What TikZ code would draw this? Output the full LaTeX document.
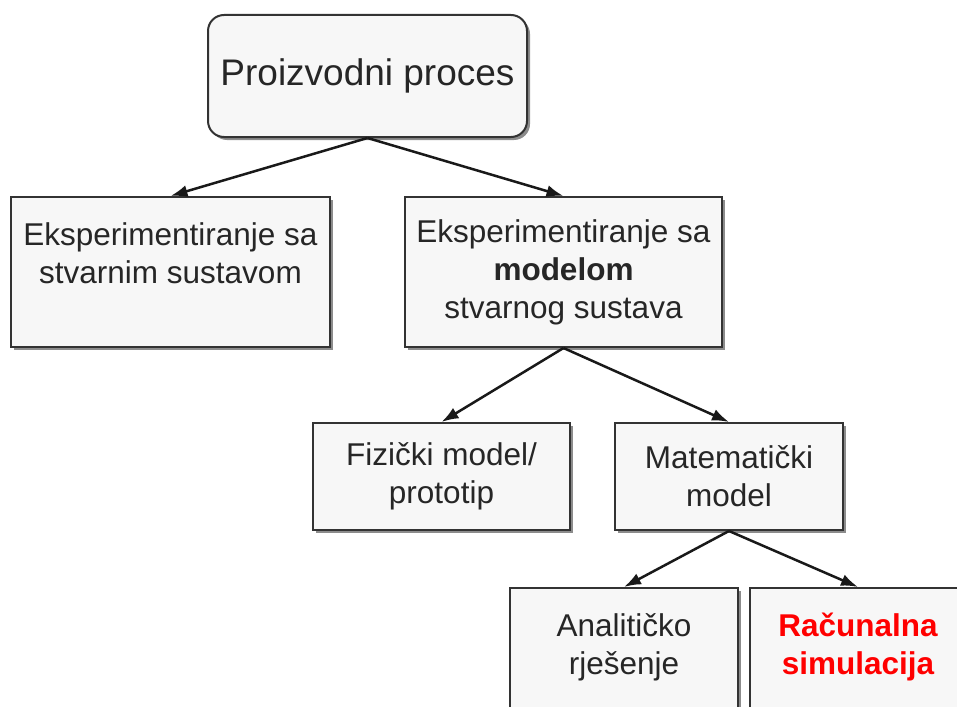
\documentclass[tikz,border=0pt]{standalone}
\usepackage{fontspec}
\setmainfont{Liberation Sans}
\usetikzlibrary{arrows.meta,shadows}
\definecolor{boxfill}{HTML}{F7F7F7}
\definecolor{boxline}{HTML}{333333}
\definecolor{boxtext}{HTML}{262626}
\begin{document}
\begin{tikzpicture}[x=1pt,y=-1pt,
    box/.style={draw=boxline,line width=2pt,fill=boxfill,align=center,text=boxtext,inner sep=0pt,
        font=\fontsize{31.5}{38}\selectfont,
        drop shadow={shadow xshift=3pt,shadow yshift=-3pt,fill=black!45,opacity=1}},
    link/.style={-{Latex[length=17pt,width=12pt]},line width=2.5pt,draw=black!90}]
    \useasboundingbox (0,0) rectangle (957,706);

    \node[box,rounded corners=16pt,minimum width=319pt,minimum height=122pt,
        font=\fontsize{37}{44}\selectfont] (proces) at (367.5,76) {Proizvodni proces};
    \node[box,minimum width=319pt,minimum height=150pt] (stvarni) at (170.5,272)
        {Eksperimentiranje sa\\stvarnim sustavom\\\mbox{}};
    \node[box,minimum width=317pt,minimum height=150pt] (modelom) at (563.5,272)
        {Eksperimentiranje sa\\\textbf{modelom}\\stvarnog sustava};
    \node[box,minimum width=257pt,minimum height=107pt] (fizicki) at (441.5,476.5)
        {Fizički model/\\prototip};
    \node[box,minimum width=228pt,minimum height=107pt] (matematicki) at (729,476.5)
        {Matematički\\model};
    \node[box,minimum width=228pt,minimum height=150pt] (analiticko) at (624,663)
        {Analitičko\\rješenje\\\mbox{}};
    \node[box,minimum width=216pt,minimum height=150pt,text=red,
        font=\fontsize{31.5}{38}\selectfont\bfseries] (simulacija) at (858,663)
        {Računalna\\simulacija\\\mbox{}};

    \draw[link] (proces.south) -- (stvarni.north);
    \draw[link] (proces.south) -- (modelom.north);
    \draw[link] (modelom.south) -- (fizicki.north);
    \draw[link] (modelom.south) -- (matematicki.north);
    \draw[link] (matematicki.south) -- (analiticko.north);
    \draw[link] (matematicki.south) -- (simulacija.north);
\end{tikzpicture}
\end{document}
